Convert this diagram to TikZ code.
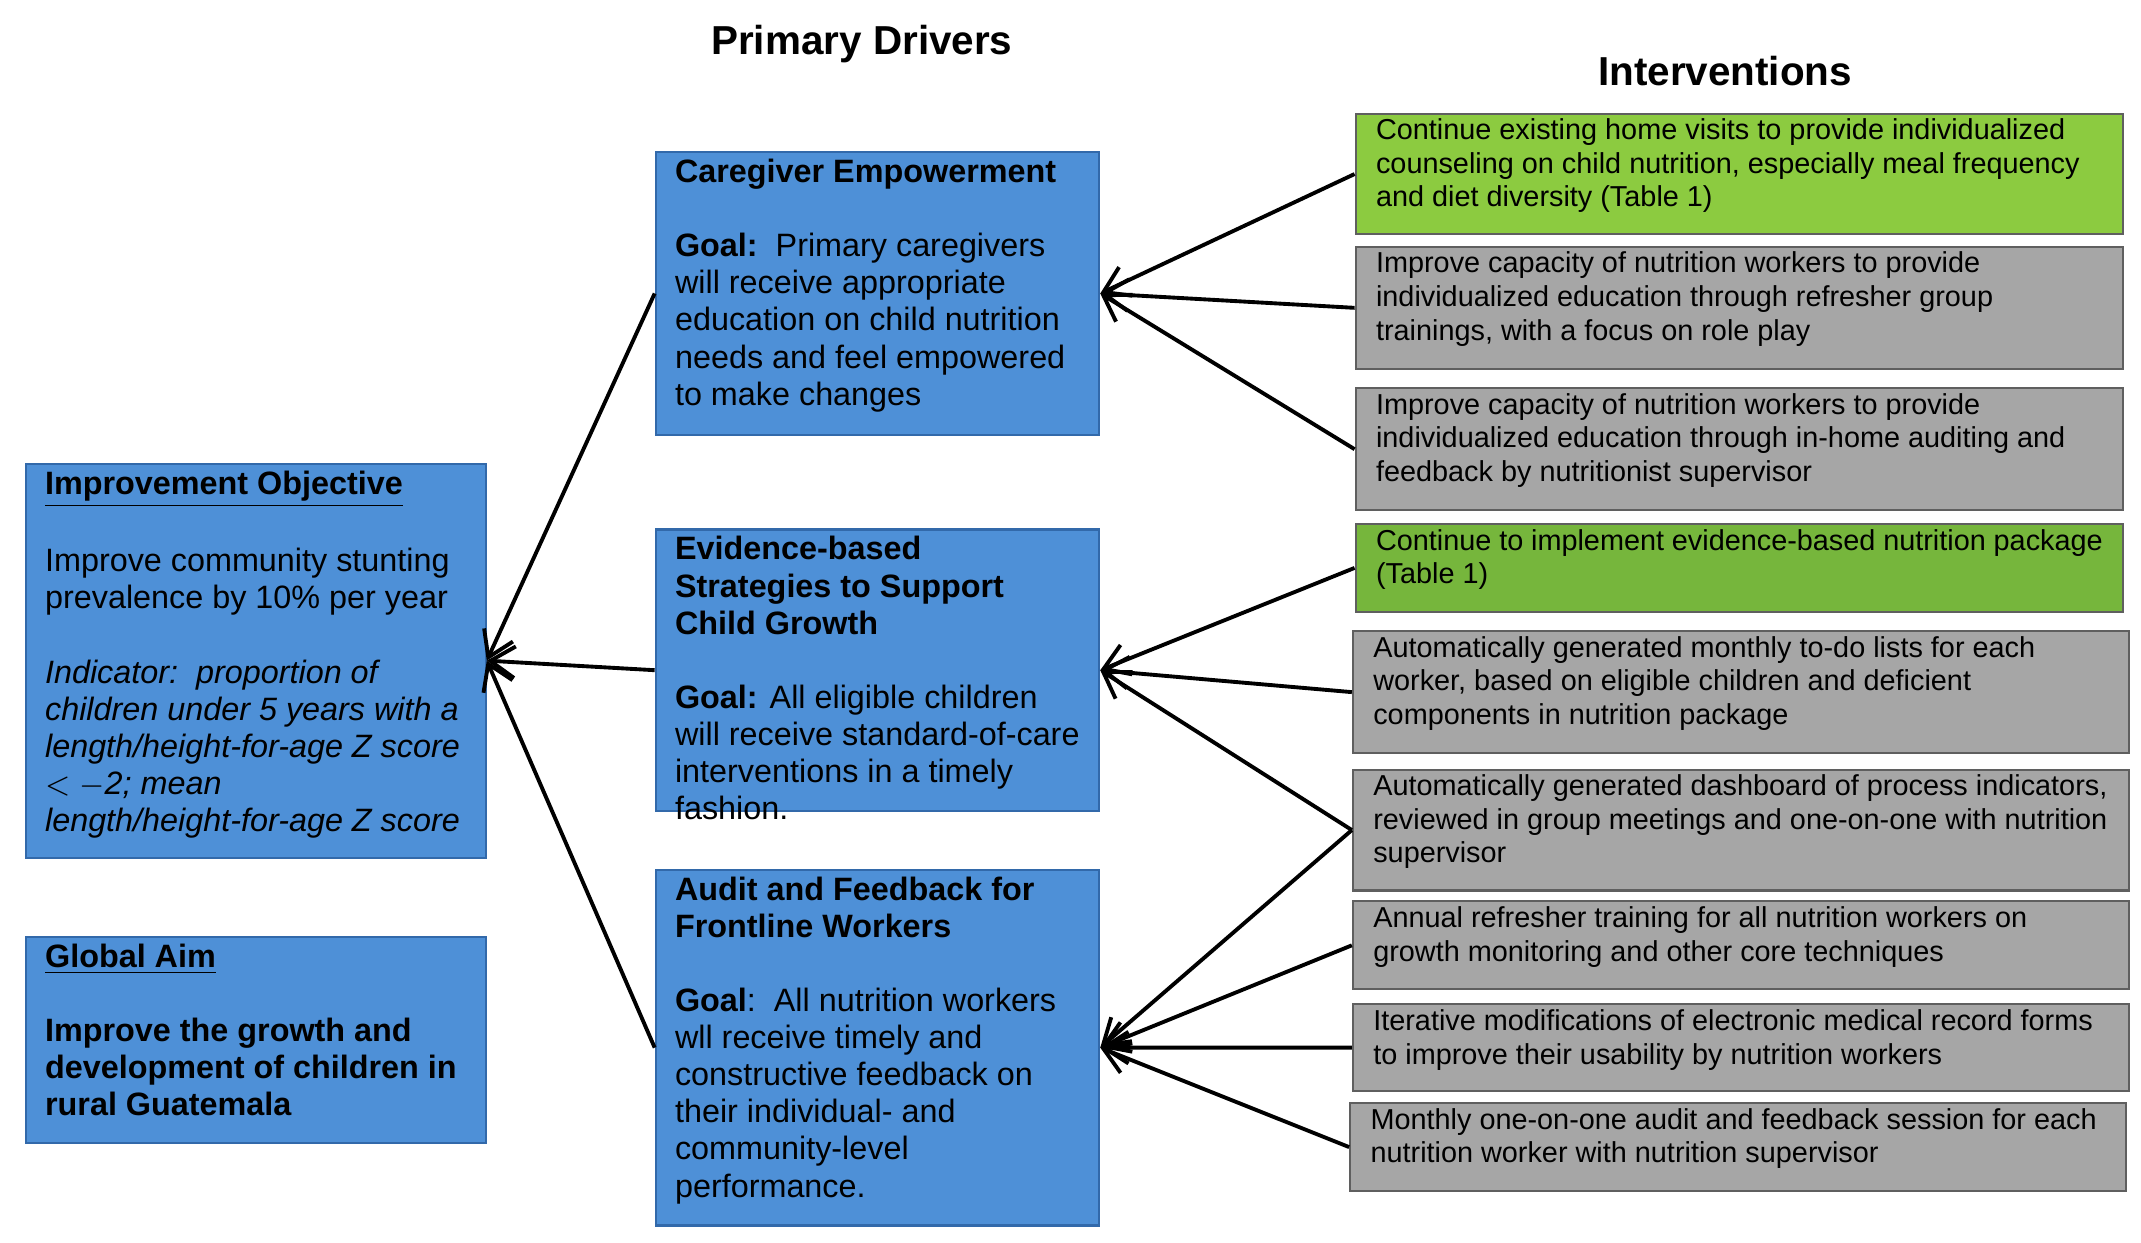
\documentclass[tikz,border=0pt]{standalone}
\usepackage{fontspec}
\setmainfont{Liberation Sans}
\usetikzlibrary{arrows.meta}
\definecolor{bblue}{RGB}{78,144,215}
\definecolor{bblueline}{RGB}{50,105,170}
\definecolor{gA}{RGB}{140,203,64}
\definecolor{gB}{RGB}{118,182,60}
\definecolor{gray1}{RGB}{166,166,166}
\definecolor{grayline}{RGB}{95,95,95}
\tikzset{
 bluebox/.style={draw=bblueline, fill=bblue, line width=0.6pt},
 greenbox/.style={draw=grayline, fill=gA, line width=0.6pt},
 greenboxB/.style={draw=grayline, fill=gB, line width=0.6pt},
 graybox/.style={draw=grayline, fill=gray1, line width=0.6pt},
 arr/.style={line width=1.1pt, -{Straight Barb[length=7pt,width=9pt,line width=1.1pt]}},
 ttl/.style={font=\fontsize{11.5}{13}\selectfont\bfseries}
}
\newcommand\bfnt{\fontsize{9.2}{10.55}\selectfont}
\newcommand\ifnt{\fontsize{8.2}{9.55}\selectfont}
% name, x1, y1, x2, y2, style, padx(pt), pady(pt), text
\newcommand\bx[9]{%
 \pgfmathsetlengthmacro\bw{(#4-#2)*0.39049pt}%
 \pgfmathsetlengthmacro\bh{(#5-#3)*0.39049pt}%
 \pgfmathsetlengthmacro\tw{(#4-#2)*0.39049pt-2*#7pt}%
 \node[#6, anchor=north west, inner sep=0pt, minimum width=\bw, minimum height=\bh] (#1) at (#2,#3)
 {\parbox[c][\bh][t]{\tw}{\vspace*{#8pt}\raggedright #9}};}
\begin{document}
\begin{tikzpicture}[x=0.013724cm, y=-0.013724cm]
\useasboundingbox (0,0) rectangle (1560,905);
\node[ttl] (pd) at (628,32) {Primary Drivers};
\node[ttl] (iv) at (1257,52) {Interventions};

\bx{obj}{18}{337}{353}{624}{bluebox}{5.5}{2}{\bfnt\textbf{\underline{Improvement Objective}}\par\vspace{\baselineskip}
Improve community stunting prevalence by 10\% per year\par\vspace{\baselineskip}
\itshape Indicator:\ \ proportion of children under 5 years with a length/height-for-age Z score $<$ $-$2; mean length/height-for-age Z score}
\bx{aim}{18}{682}{353}{832}{bluebox}{5.5}{2}{\bfnt\textbf{\underline{Global Aim}}\par\vspace{\baselineskip}
\bfseries Improve the growth and development of children in rural Guatemala}

\bx{cg}{477}{110}{800}{316}{bluebox}{5.5}{2}{\bfnt\textbf{Caregiver Empowerment}\par\vspace{\baselineskip}
\textbf{Goal:}\ \ Primary caregivers will receive appropriate education on child nutrition needs and feel empowered to make changes}
\bx{ev}{477}{385}{800}{590}{bluebox}{5.5}{2}{\bfnt\textbf{Evidence-based Strategies to Support Child Growth}\par\vspace{\baselineskip}
\textbf{Goal:} All eligible children will receive standard-of-care interventions in a timely fashion.}
\bx{au}{477}{633}{800}{892}{bluebox}{5.5}{2}{\bfnt\textbf{Audit and Feedback for Frontline Workers}\par\vspace{\baselineskip}
\textbf{Goal}:\ \ All nutrition workers wll receive timely and constructive feedback on their individual- and community-level performance.}

\bx{i1}{987}{82}{1546}{170}{greenbox}{5.8}{1.5}{\ifnt Continue existing home visits to provide individualized counseling on child nutrition, especially meal frequency and diet diversity (Table 1)}
\bx{i2}{987}{179}{1546}{268}{graybox}{5.8}{1.5}{\ifnt Improve capacity of nutrition workers to provide individualized education through refresher group trainings, with a focus on role play}
\bx{i3}{987}{282}{1546}{371}{graybox}{5.8}{1.5}{\ifnt Improve capacity of nutrition workers to provide individualized education through in-home auditing and feedback by nutritionist supervisor}
\bx{i4}{987}{381}{1546}{445}{greenboxB}{5.8}{1.5}{\ifnt Continue to implement evidence-based nutrition package (Table 1)}
\bx{i5}{985}{459}{1550}{548}{graybox}{5.8}{1.5}{\ifnt Automatically generated monthly to-do lists for each worker, based on eligible children and deficient components in nutrition package}
\bx{i6}{985}{560}{1550}{648}{graybox}{5.8}{1.5}{\ifnt Automatically generated dashboard of process indicators, reviewed in group meetings and one-on-one with nutrition supervisor}
\bx{i7}{985}{656}{1550}{720}{graybox}{5.8}{1.5}{\ifnt Annual refresher training for all nutrition workers on growth monitoring and other core techniques}
\bx{i8}{985}{731}{1550}{794}{graybox}{5.8}{1.5}{\ifnt Iterative modifications of electronic medical record forms to improve their usability by nutrition workers}
\bx{i9}{983}{803}{1548}{867}{graybox}{5.8}{1.5}{\ifnt Monthly one-on-one audit and feedback session for each nutrition worker with nutrition supervisor}

\draw[arr] (cg.west) -- (obj.east);
\draw[arr] (ev.west) -- (obj.east);
\draw[arr] (au.west) -- (obj.east);
\foreach \i in {i1,i2,i3} \draw[arr] (\i.west) -- (cg.east);
\foreach \i in {i4,i5,i6} \draw[arr] (\i.west) -- (ev.east);
\foreach \i in {i6,i7,i8,i9} \draw[arr] (\i.west) -- (au.east);
\end{tikzpicture}
\end{document}
